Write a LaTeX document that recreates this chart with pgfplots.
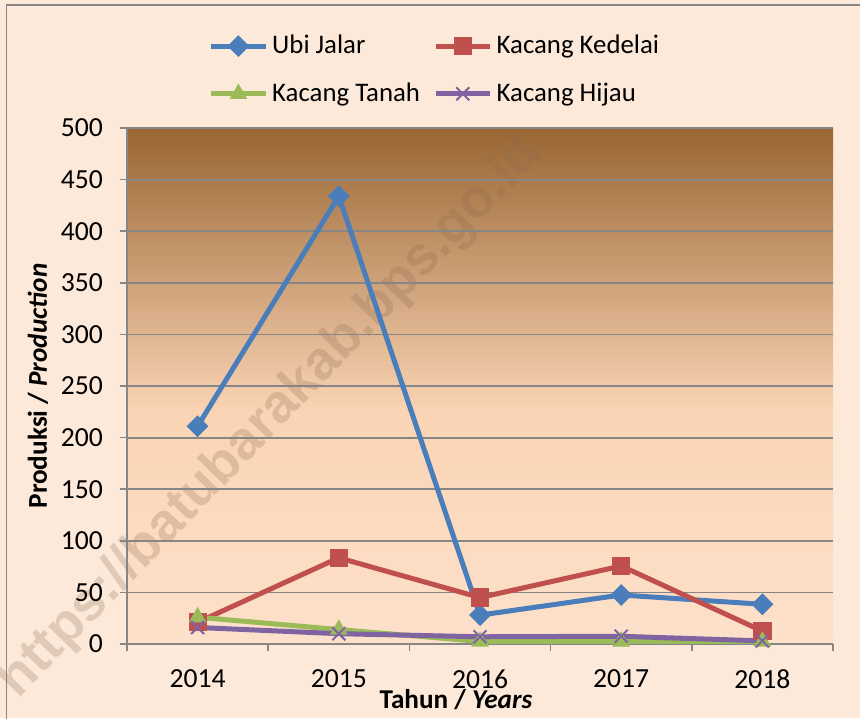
\documentclass[border=0pt]{standalone}
\usepackage{fontspec}
\setmainfont{Carlito}
\newfontfamily\wmfont{Liberation Sans}
\usepackage{pgfplots}
\pgfplotsset{compat=1.18}
\definecolor{outerbg}{HTML}{FDE9D9}
\definecolor{bgtop}{HTML}{996633}
\definecolor{bgmid}{HTML}{FAD4B4}
\definecolor{bgbot}{HTML}{FDE1CB}
\definecolor{gridc}{HTML}{868686}
\definecolor{sblue}{HTML}{4A7EBB}
\definecolor{sred}{HTML}{C0504D}
\definecolor{sgreen}{HTML}{9BBB59}
\definecolor{spurple}{HTML}{8064A2}
\definecolor{wmc}{HTML}{8C6A50}
\pgfdeclareverticalshading{plotbg}{100bp}{color(0bp)=(bgbot); color(25bp)=(bgbot); color(47.5bp)=(bgmid); color(75bp)=(bgtop); color(100bp)=(bgtop)}
\begin{document}
\begin{tikzpicture}
\fill[outerbg] (-63.5pt,-37pt) rectangle (366.5pt,322pt);
\useasboundingbox (-63.5pt,-37pt) rectangle (366.5pt,322pt);
\draw[gridc, line width=0.8pt] (-60.2pt,-40pt) -- (-60.2pt,319.5pt) -- (370pt,319.5pt);
\shade[shading=plotbg] (0pt,0pt) rectangle (353pt,258pt);
\node[rotate=46, text=wmc, opacity=0.25, font=\wmfont\bfseries\fontsize{27}{27}\selectfont] at (72pt,113pt) {https://batubarakab.bps.go.id};
\begin{axis}[
  at={(0pt,0pt)}, anchor=south west,
  scale only axis, width=353pt, height=258pt,
  xmin=-0.5, xmax=4.5, ymin=0, ymax=500,
  xtick={0,1,2,3,4},
  xticklabels={2014,2015,2016,2017,2018},
  minor xtick={-0.5,0.5,1.5,2.5,3.5,4.5},
  ytick={0,50,...,500},
  tick align=outside,
  major x tick style={draw=none},
  minor tick length=3.5pt,
  major tick length=3.5pt,
  tick style={gridc, line width=0.8pt},
  axis x line*=bottom, axis y line*=left,
  axis line style={gridc, line width=0.8pt},
  ymajorgrids, grid style={gridc, line width=0.9pt},
  /pgf/number format/assume math mode=true,
  ticklabel style={font=\fontsize{13.8}{16}\selectfont},
  xticklabel style={yshift=-6pt},
  yticklabel style={xshift=-5pt},
  xlabel={\textbf{Tahun / \textit{Years}}},
  ylabel={\textbf{Produksi / \textit{Production}}},
  label style={font=\fontsize{13.6}{16}\selectfont},
  xlabel style={at={(rel axis cs:0.466,0)}, anchor=center, yshift=-28pt},
  ylabel style={at={(rel axis cs:0,0.5)}, anchor=center, yshift=44.5pt},
  legend columns=2,
  legend cell align=left,
  legend style={at={(rel axis cs:0.115,1)}, anchor=south west, yshift=9.5pt,
    draw=none, fill=none, inner sep=0pt, row sep=9pt,
    font=\fontsize{13.4}{16}\selectfont,
    /tikz/every even column/.append style={column sep=4.5pt}},
  legend image code/.code={\draw[mark repeat=2,mark phase=2] plot coordinates {(0cm,0cm) (0.48cm,0cm) (0.96cm,0cm)};},
  every axis plot/.append style={line width=2.5pt},
  clip=false,
]
\addplot[sblue, mark=square*, mark size=3.6pt, mark options={rotate=45, solid, line width=0.5pt}]
  coordinates {(0,211) (1,434) (2,28) (3,47.5) (4,38.5)};
\addlegendentry{Ubi Jalar}
\addplot[sred, mark=square*, mark size=4.3pt, mark options={solid, line width=0.5pt}]
  coordinates {(0,21) (1,83.5) (2,45) (3,75.6) (4,12.5)};
\addlegendentry{Kacang Kedelai}
\addplot[sgreen, mark=triangle*, mark size=4.6pt, mark options={solid, line width=0.5pt}]
  coordinates {(0,26) (1,14) (2,2.5) (3,2.5) (4,2.5)};
\addlegendentry{Kacang Tanah}
\addplot[spurple, mark=x, mark size=4.6pt, mark options={solid, line width=1pt}]
  coordinates {(0,16) (1,10) (2,7) (3,7.5) (4,3)};
\addlegendentry{Kacang Hijau}
\end{axis}
\end{tikzpicture}
\end{document}
